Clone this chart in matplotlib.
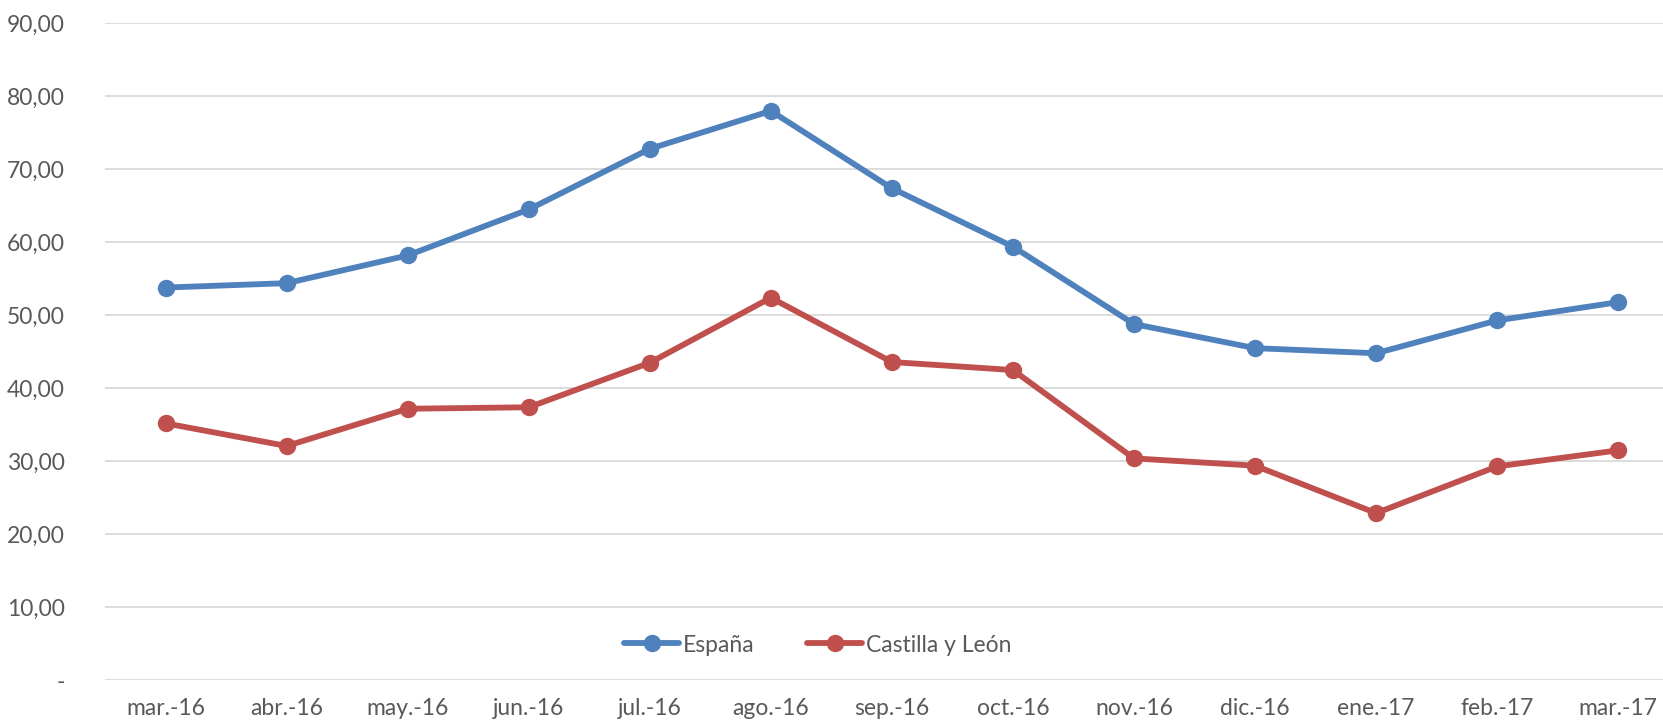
import matplotlib
matplotlib.use("Agg")
import matplotlib.pyplot as plt
from matplotlib.ticker import FixedLocator

categories = ["mar.-16", "abr.-16", "may.-16", "jun.-16", "jul.-16", "ago.-16",
              "sep.-16", "oct.-16", "nov.-16", "dic.-16", "ene.-17", "feb.-17", "mar.-17"]
espana = [53.8, 54.4, 58.2, 64.5, 72.8, 78.0, 67.4, 59.4, 48.8, 45.5, 44.8, 49.3, 51.8]
castilla = [35.2, 32.1, 37.2, 37.4, 43.5, 52.4, 43.6, 42.5, 30.4, 29.4, 22.9, 29.3, 31.5]
yticks = [0, 10, 20, 30, 40, 50, 60, 70, 80, 90]
ytick_labels = ["-", "10,00", "20,00", "30,00", "40,00", "50,00", "60,00", "70,00", "80,00", "90,00"]

plt.rcParams['font.family'] = ['Lato', 'DejaVu Sans']

W, H = 1663, 722
fig = plt.figure(figsize=(W / 100, H / 100), dpi=100)
ax = fig.add_axes([105 / W, 1 - 680.3 / H, 1 - 105 / W, (680.3 - 23.3) / H])

x = list(range(len(categories)))
ax.plot(x, espana, color="#4F81BD", lw=4.2, marker="o", ms=11.5, label="España",
        solid_capstyle="round", zorder=3)
ax.plot(x, castilla, color="#C0504D", lw=4.2, marker="o", ms=11.5, label="Castilla y León",
        solid_capstyle="round", zorder=3)

ax.set_xlim(-0.5, 12.37)
ax.set_ylim(0, 90)
ax.yaxis.set_major_locator(FixedLocator(yticks))
ax.set_yticklabels(ytick_labels)
ax.set_xticks(x)
ax.set_xticklabels(categories)

ax.grid(axis="y", color="#D9D9D9", lw=1.3)
ax.set_axisbelow(True)
for s in ax.spines.values():
    s.set_visible(False)
ax.tick_params(axis="both", length=0, colors="#595959", labelsize=16.5)
ax.tick_params(axis="y", pad=29)
ax.tick_params(axis="x", pad=13)
for lbl in ax.get_yticklabels():
    lbl.set_horizontalalignment("right")

leg = ax.legend(loc="center", bbox_to_anchor=(0.4575, 0.0537), ncol=2, frameon=False,
                fontsize=16.5, handlelength=2.4, columnspacing=2.3, handletextpad=0.15,
                labelcolor="#595959")

fig.savefig("out.png", dpi=100, facecolor="white")
